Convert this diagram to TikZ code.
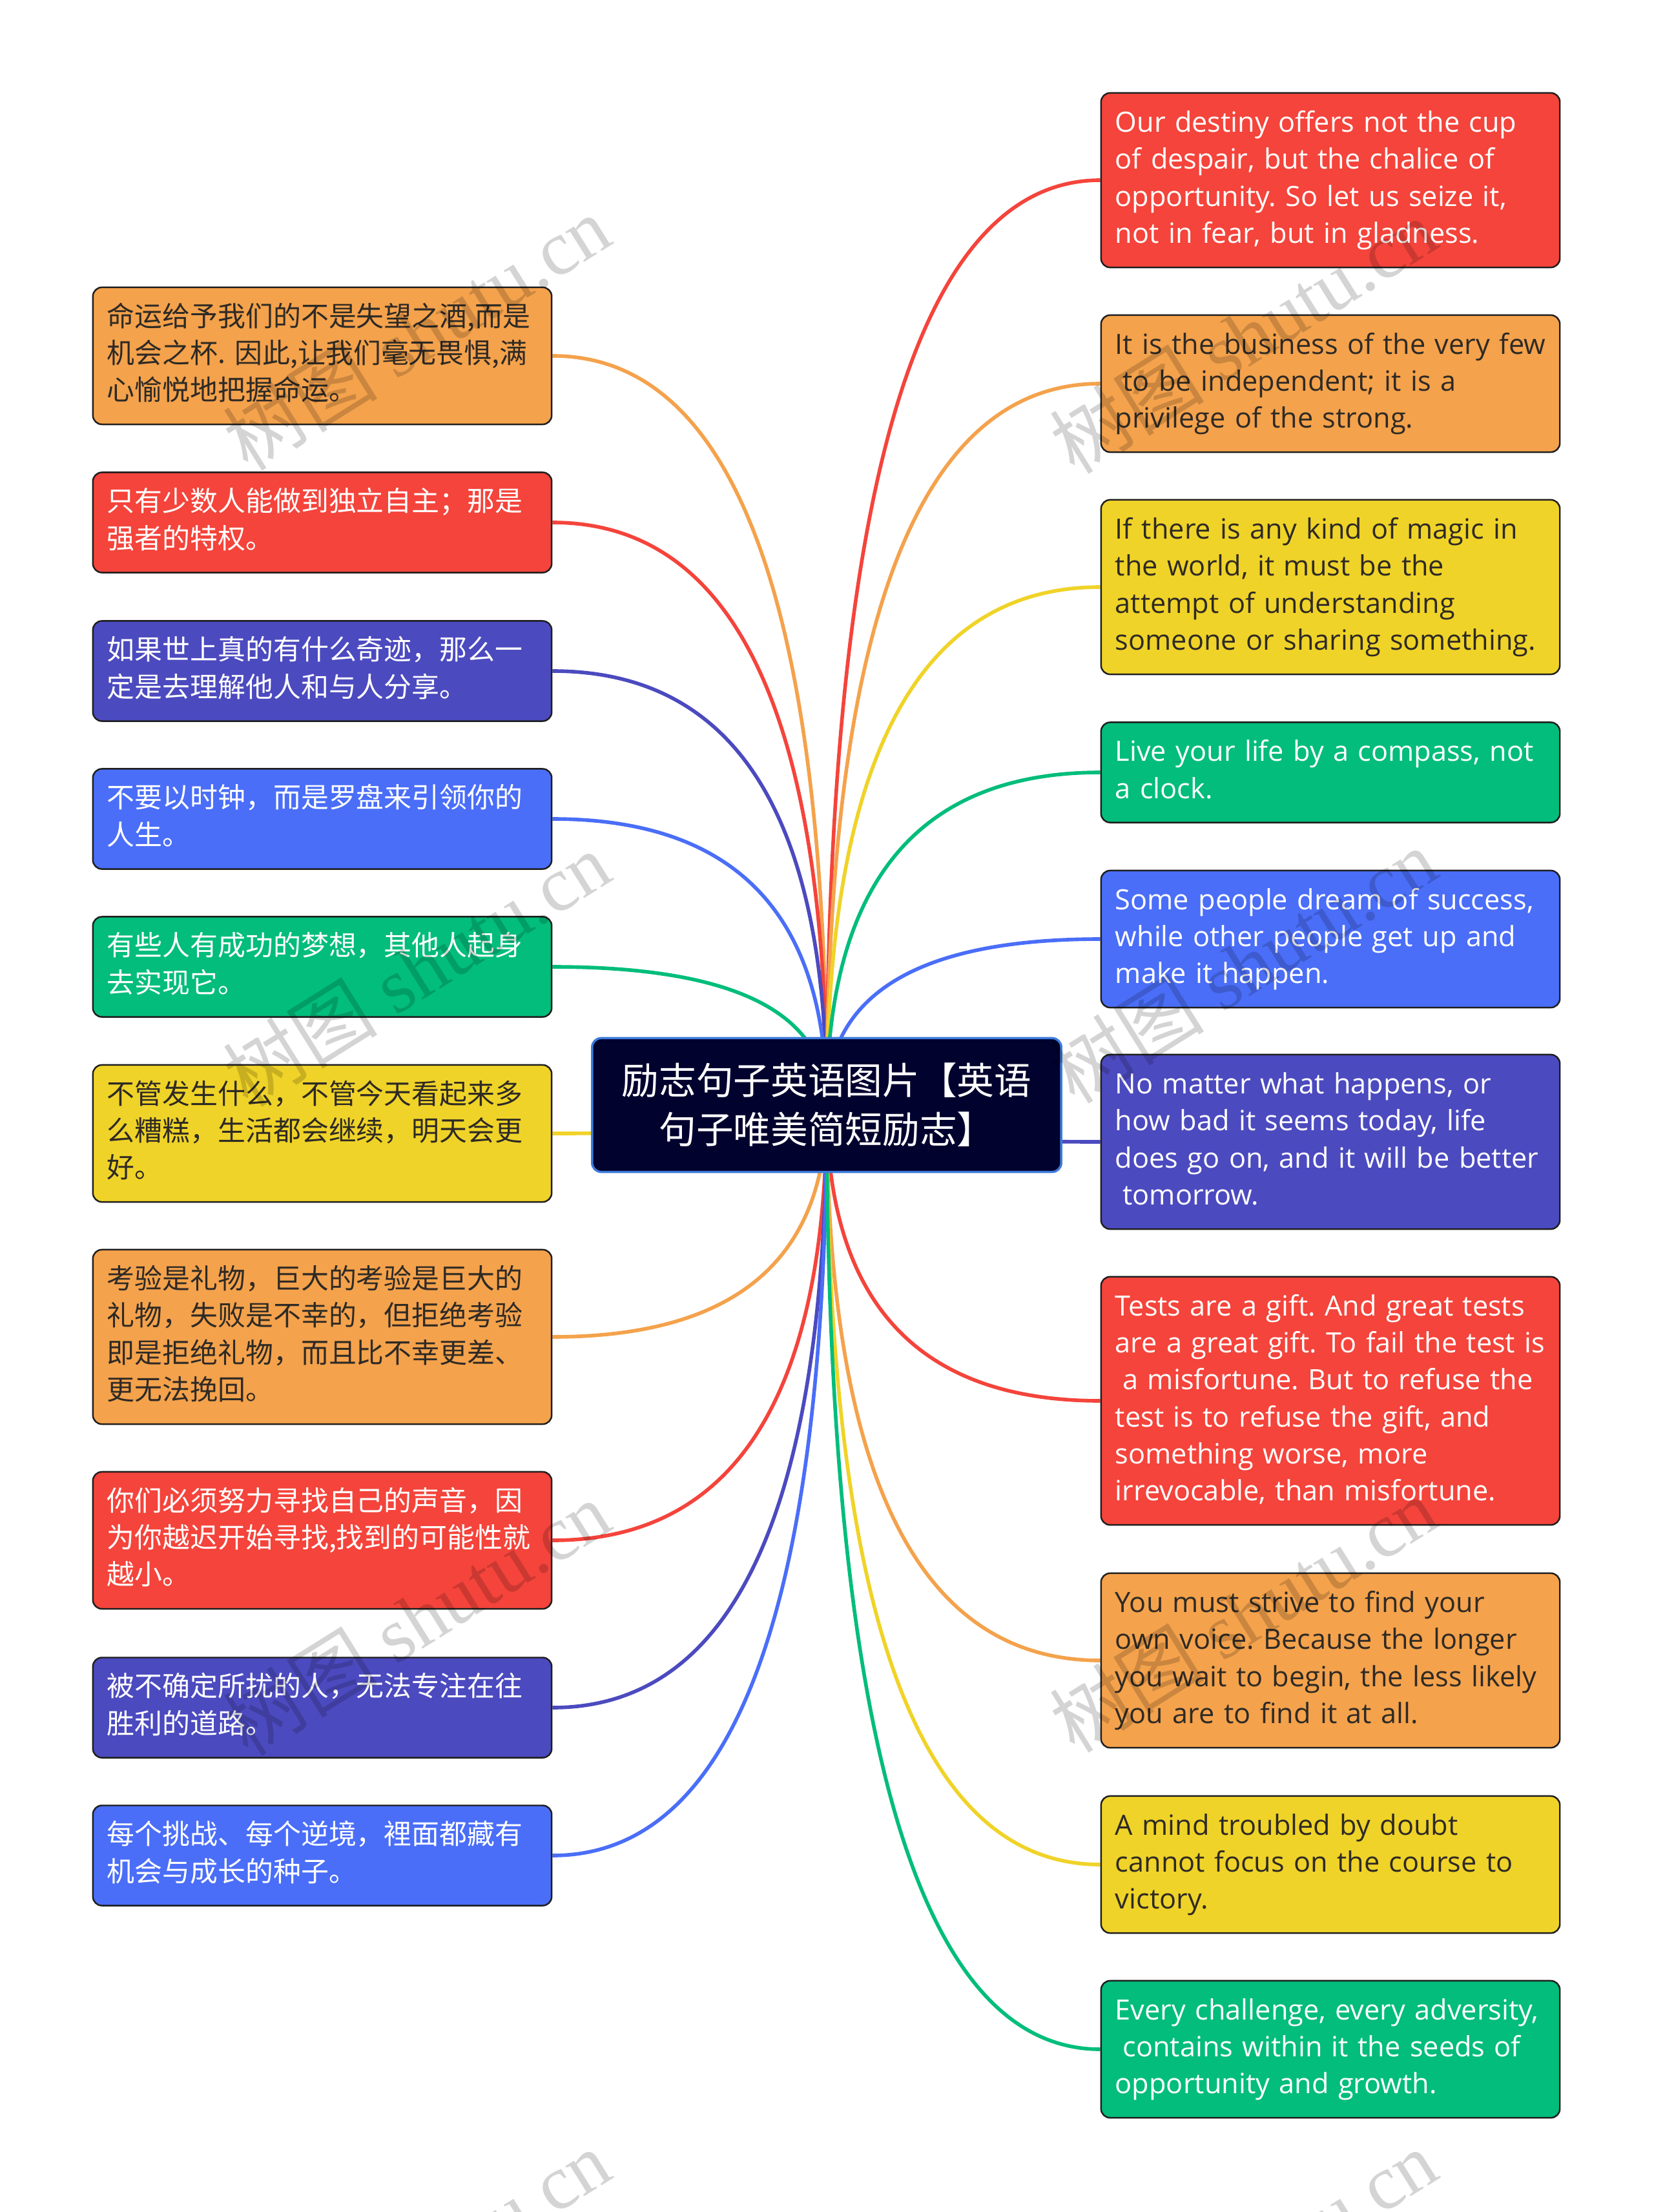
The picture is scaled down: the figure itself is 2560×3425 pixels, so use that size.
\documentclass[tikz,border=0pt]{standalone}
\usepackage{fontspec}
\setmainfont{Open Sans}
\newfontfamily\cjk{Noto Sans CJK SC}
\newfontfamily\wmlat{Liberation Serif}
\usetikzlibrary{calc}
\frenchspacing
\definecolor{cR}{HTML}{F4443B}
\definecolor{cO}{HTML}{F4A24C}
\definecolor{cY}{HTML}{F0D328}
\definecolor{cG}{HTML}{02BD7B}
\definecolor{cB}{HTML}{4A6EF8}
\definecolor{cI}{HTML}{4C4ABF}
\definecolor{navy}{HTML}{02022E}
\definecolor{navyline}{HTML}{3D7BDA}
\definecolor{boxline}{HTML}{1E1E1E}
\definecolor{dk}{HTML}{2E2A25}
\newcommand\mylines[1]{\begin{tabular}{@{}l@{}}#1\end{tabular}}
\newcommand\myconn[3]{\draw[conn,#1] (c.center) .. controls ($(c.center)!0.6667!(c.center |- #2.#3)$) and ($(#2.#3)!0.6667!(c.center |- #2.#3)$) .. (#2.#3);}
\pgfdeclarelayer{paper}
\pgfdeclarelayer{links}
\pgfsetlayers{paper,links,main}
\tikzset{
  box/.style={draw=boxline, line width=0.7pt, rounded corners=0.14cm, minimum width=7.1cm,
    text width=6.66cm, inner xsep=0.22cm, inner ysep=0pt, align=left},
  en/.style={font=\frenchspacing\fontsize{12.3}{16.3}\selectfont},
  zh/.style={font=\cjk\fontsize{12.2}{16.3}\selectfont},
  h2/.style={minimum height=1.55cm},
  h3/.style={minimum height=2.12cm},
  h4/.style={minimum height=2.70cm},
  h6/.style={minimum height=3.84cm},
  conn/.style={line width=1.6pt},
  wm/.style={rotate=32, font=\wmlat\fontsize{34}{38}\selectfont, text=black, text opacity=0.17, inner sep=0pt}
}
\begin{document}
\begin{tikzpicture}[x=0.01cm, y=-0.01cm]
\useasboundingbox (0,0) rectangle (2560,3425);
\begin{pgfonlayer}{paper}
\fill[white] (0,0) rectangle (2560,3425);
\end{pgfonlayer}

% central node
\node[draw=navyline, line width=1pt, fill=navy, rounded corners=0.14cm, minimum width=7.26cm,
  minimum height=2.07cm, text=white, align=center, font=\cjk\fontsize{16.4}{21.6}\selectfont]
  (c) at (1280,1711) {励志句子英语图片【英语\\句子唯美简短励志】};

% left boxes
\node[box, zh, h3, fill=cO, text=dk] (L1) at (499,551) {\mylines{命运给予我们的不是失望之酒,而是\\机会之杯. 因此,让我们毫无畏惧,满\\心愉悦地把握命运。}};
\node[box, zh, h2, fill=cR, text=white] (L2) at (499,809) {\mylines{只有少数人能做到独立自主；那是\\强者的特权。}};
\node[box, zh, h2, fill=cI, text=white] (L3) at (499,1039) {\mylines{如果世上真的有什么奇迹，那么一\\定是去理解他人和与人分享。}};
\node[box, zh, h2, fill=cB, text=white] (L4) at (499,1268) {\mylines{不要以时钟，而是罗盘来引领你的\\人生。}};
\node[box, zh, h2, fill=cG, text=white] (L5) at (499,1497) {\mylines{有些人有成功的梦想，其他人起身\\去实现它。}};
\node[box, zh, h3, fill=cY, text=dk] (L6) at (499,1755) {\mylines{不管发生什么，不管今天看起来多\\么糟糕，生活都会继续，明天会更\\好。}};
\node[box, zh, h4, fill=cO, text=dk] (L7) at (499,2070) {\mylines{考验是礼物，巨大的考验是巨大的\\礼物，失败是不幸的，但拒绝考验\\即是拒绝礼物，而且比不幸更差、\\更无法挽回。}};
\node[box, zh, h3, fill=cR, text=white] (L8) at (499,2385) {\mylines{你们必须努力寻找自己的声音，因\\为你越迟开始寻找,找到的可能性就\\越小。}};
\node[box, zh, h2, fill=cI, text=white] (L9) at (499,2644) {\mylines{被不确定所扰的人，无法专注在往\\胜利的道路。}};
\node[box, zh, h2, fill=cB, text=white] (L10) at (499,2873) {\mylines{每个挑战、每个逆境，裡面都藏有\\机会与成长的种子。}};

% right boxes
\node[box, en, h4, fill=cR, text=white] (R1) at (2060,279) {\mylines{Our destiny offers not the cup\\of despair, but the chalice of\\opportunity. So let us seize it,\\not in fear, but in gladness.}};
\node[box, en, h3, fill=cO, text=dk] (R2) at (2060,594) {\mylines{It is the business of the very few\\\hspace{0.27em}to be independent; it is a\\privilege of the strong.}};
\node[box, en, h4, fill=cY, text=dk] (R3) at (2060,909) {\mylines{If there is any kind of magic in\\the world, it must be the\\attempt of understanding\\someone or sharing something.}};
\node[box, en, h2, fill=cG, text=white] (R4) at (2060,1196) {\mylines{Live your life by a compass, not\\a clock.}};
\node[box, en, h3, fill=cB, text=white] (R5) at (2060,1454) {\mylines{Some people dream of success,\\while other people get up and\\make it happen.}};
\node[box, en, h4, fill=cI, text=white] (R6) at (2060,1768) {\mylines{No matter what happens, or\\how bad it seems today, life\\does go on, and it will be better\\\hspace{0.27em}tomorrow.}};
\node[box, en, h6, fill=cR, text=white] (R7) at (2060,2169) {\mylines{Tests are a gift. And great tests\\are a great gift. To fail the test is\\\hspace{0.27em}a misfortune. But to refuse the\\test is to refuse the gift, and\\something worse, more\\irrevocable, than misfortune.}};
\node[box, en, h4, fill=cO, text=dk] (R8) at (2060,2571) {\mylines{You must strive to find your\\own voice. Because the longer\\you wait to begin, the less likely\\you are to find it at all.}};
\node[box, en, h3, fill=cY, text=dk] (R9) at (2060,2887) {\mylines{A mind troubled by doubt\\cannot focus on the course to\\victory.}};
\node[box, en, h3, fill=cG, text=white] (R10) at (2060,3173) {\mylines{Every challenge, every adversity,\\\hspace{0.27em}contains within it the seeds of\\opportunity and growth.}};

% connectors
\begin{pgfonlayer}{links}
\myconn{cO}{L1}{east}
\myconn{cR}{L2}{east}
\myconn{cI}{L3}{east}
\myconn{cB}{L4}{east}
\myconn{cG}{L5}{east}
\myconn{cY}{L6}{east}
\myconn{cO}{L7}{east}
\myconn{cR}{L8}{east}
\myconn{cI}{L9}{east}
\myconn{cB}{L10}{east}
\myconn{cR}{R1}{west}
\myconn{cO}{R2}{west}
\myconn{cY}{R3}{west}
\myconn{cG}{R4}{west}
\myconn{cB}{R5}{west}
\myconn{cI}{R6}{west}
\myconn{cR}{R7}{west}
\myconn{cO}{R8}{west}
\myconn{cY}{R9}{west}
\myconn{cG}{R10}{west}
\end{pgfonlayer}

% watermarks
\node[wm] (w1) at (645,515) {{\cjk 树图} shutu.cn};
\node[wm] (w2) at (645,1500) {{\cjk 树图} shutu.cn};
\node[wm] (w3) at (645,2505) {{\cjk 树图} shutu.cn};
\node[wm] (w4) at (645,3510) {{\cjk 树图} shutu.cn};
\node[wm] (w5) at (1925,520) {{\cjk 树图} shutu.cn};
\node[wm] (w6) at (1925,1495) {{\cjk 树图} shutu.cn};
\node[wm] (w7) at (1925,2500) {{\cjk 树图} shutu.cn};
\node[wm] (w8) at (1925,3510) {{\cjk 树图} shutu.cn};
\end{tikzpicture}
\end{document}
